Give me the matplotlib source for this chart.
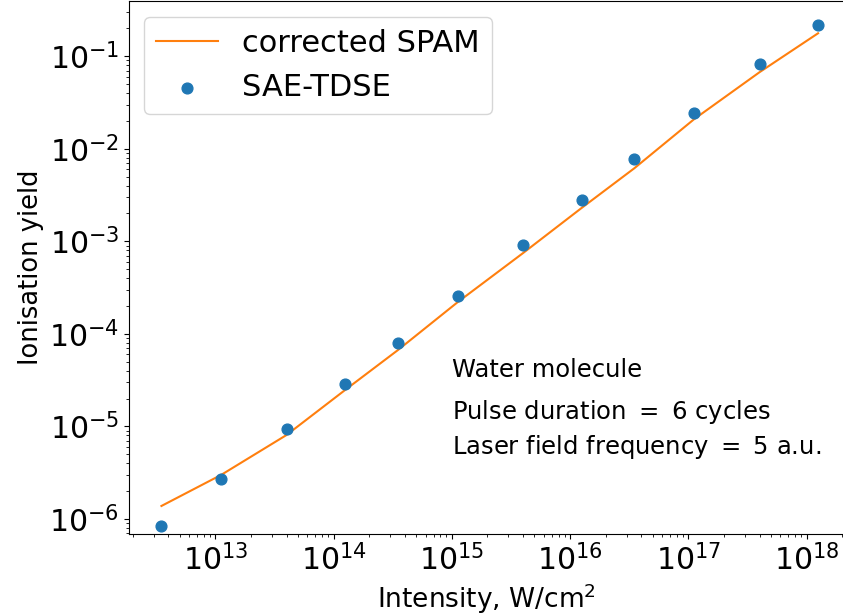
import numpy as np
import matplotlib
matplotlib.use("Agg")
import matplotlib.pyplot as plt

# Laser intensities (W/cm^2) used for the runs
intensity = [3.5e12, 1.12e13, 4.0e13, 1.25e14, 3.5e14, 1.12e15,
             4.0e15, 1.25e16, 3.5e16, 1.12e17, 4.0e17, 1.25e18]

# Ionisation yields
yield_spam = [1.38e-6, 2.99e-6, 8.07e-6, 2.47e-5, 6.68e-5, 2.20e-4,
              7.46e-4, 2.29e-3, 6.17e-3, 2.09e-2, 6.72e-2, 0.177]
yield_tdse = [8.4e-7, 2.7e-6, 9.4e-6, 2.87e-5, 7.9e-5, 2.56e-4,
              9.1e-4, 2.79e-3, 7.7e-3, 2.42e-2, 8.2e-2, 0.216]

info_lines = ["Water molecule",
              "Pulse duration $=$ 6 cycles",
              "Laser field frequency $=$ 5 a.u."]

plt.rcParams["font.family"] = "DejaVu Sans"
plt.rcParams["mathtext.fontset"] = "dejavusans"

fig = plt.figure(figsize=(8.43, 6.15), dpi=100)
ax = fig.add_axes([0.153, 0.132, 0.849, 0.866])

ax.plot(intensity, yield_spam, color="tab:orange", lw=1.5, label="corrected SPAM")
ax.scatter(intensity, yield_tdse, color="tab:blue", s=60, label="SAE-TDSE", zorder=3)

ax.set_xscale("log")
ax.set_yscale("log")
ax.set_xlim(1.86e12, 2.1e18)
ax.set_ylim(6.9e-7, 0.393)

ax.tick_params(axis="both", which="major", labelsize=21.5)
ax.set_xlabel("Intensity, W/cm$^2$", fontsize=19)
ax.set_ylabel("Ionisation yield", fontsize=18.5)

ax.legend(loc="upper left", fontsize=22, handlelength=2.0)

ypos = [0.308, 0.229, 0.163]
for line, yp in zip(info_lines, ypos):
    ax.text(0.452, yp, line, transform=ax.transAxes, fontsize=17.5, va="center")

fig.savefig("out.png", dpi=100)
